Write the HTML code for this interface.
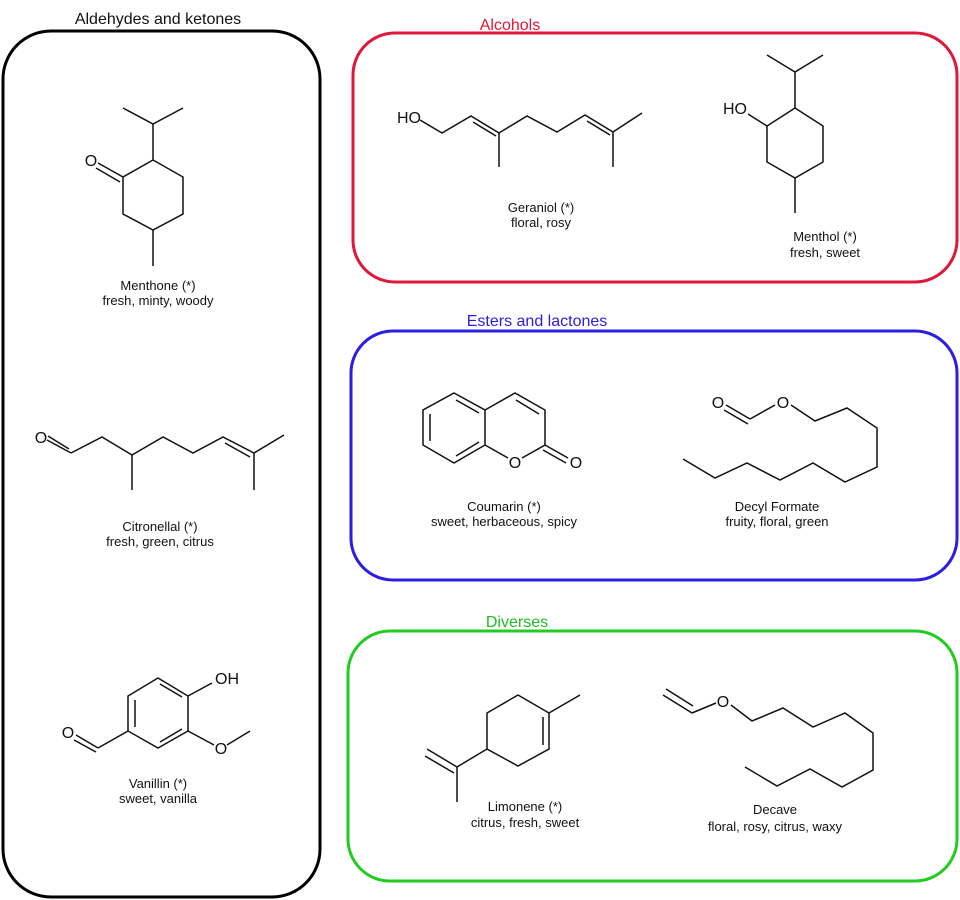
<!DOCTYPE html>
<html><head><meta charset="utf-8"><style>
html,body{margin:0;padding:0;background:#fff;}
svg{display:block}
text{font-family:"Liberation Sans Narrow","Liberation Sans",sans-serif;font-size:13px;fill:#111;text-anchor:middle}
.a{font-family:"Liberation Sans",sans-serif;font-size:16px;text-anchor:start}
.t{font-family:"Liberation Sans",sans-serif;font-size:16px}
</style></head><body>
<svg width="960" height="900" viewBox="0 0 960 900" xmlns="http://www.w3.org/2000/svg">
<g fill="none" stroke-width="3">
<rect x="3" y="31" width="317" height="866" rx="48" stroke="#000"/>
<rect x="353" y="33" width="604" height="249" rx="42" stroke="#e0173a"/>
<rect x="351" y="331" width="606" height="249" rx="42" stroke="#2a1ee0"/>
<rect x="348" y="631" width="609" height="250" rx="42" stroke="#22cc22"/>
</g>
<text class="t" x="158" y="24" fill="#000">Aldehydes and ketones</text>
<text class="t" x="510" y="30" style="fill:#e0173a">Alcohols</text>
<text class="t" x="537" y="326" style="fill:#2a1ee0">Esters and lactones</text>
<text class="t" x="517" y="627" style="fill:#22bb22">Diverses</text>

<g fill="none" stroke="#111" stroke-width="1.5">
<!-- Menthone -->
<polyline points="123,108 153,124 183,108"/>
<polyline points="153,124 153,160 183,177 183,214 153,230 123,214 123,177 153,160"/>
<line x1="153" y1="230" x2="153" y2="266"/>
<line x1="123" y1="177" x2="98" y2="163"/><line x1="120" y1="182" x2="96" y2="168"/>
<!-- Citronellal -->
<line x1="71" y1="453" x2="47" y2="440"/><line x1="69" y1="449" x2="48" y2="436"/>
<polyline points="71,453 102,437 132,455 163,437 193,453 223,437 254,453 284,435"/>
<line x1="132" y1="455" x2="132" y2="490"/><line x1="254" y1="453" x2="254" y2="490"/>
<line x1="225" y1="443" x2="250" y2="457"/>
<!-- Vanillin -->
<polygon points="158,678 188,696 188,731 158,748 128,731 128,696"/>
<line x1="135" y1="700" x2="135" y2="727"/><line x1="160" y1="684" x2="182" y2="697"/><line x1="182" y1="729" x2="160" y2="742"/>
<line x1="188" y1="696" x2="212" y2="683"/>
<line x1="188" y1="731" x2="214" y2="745"/><line x1="227" y1="745" x2="250" y2="731"/>
<line x1="128" y1="731" x2="98" y2="748"/>
<line x1="98" y1="748" x2="76" y2="735"/><line x1="96" y1="752" x2="74" y2="740"/>
<!-- Geraniol -->
<polyline points="420,120 442,133 471,116 499,133 527,116 557,132 585,115 613,132 642,113"/>
<line x1="499" y1="133" x2="499" y2="167"/><line x1="613" y1="132" x2="613" y2="167"/>
<line x1="473" y1="122" x2="496" y2="136"/><line x1="587" y1="121" x2="610" y2="135"/>
<!-- Menthol -->
<polyline points="767,55 795,72 823,55"/>
<polyline points="795,72 795,108 823,126 823,162 795,178 767,162 767,126 795,108"/>
<line x1="795" y1="178" x2="795" y2="213"/>
<line x1="767" y1="126" x2="748" y2="114"/>
<!-- Coumarin -->
<polygon points="454,393 485,410 485,445 454,463 423,445 423,410"/>
<line x1="430" y1="414" x2="430" y2="441"/><line x1="456" y1="400" x2="479" y2="413"/><line x1="479" y1="442" x2="456" y2="456"/>
<polyline points="485,410 515,393 545,410 545,445 522,458"/>
<line x1="485" y1="445" x2="508" y2="458"/>
<line x1="516" y1="400" x2="539" y2="414"/>
<line x1="545" y1="445" x2="568" y2="458"/><line x1="543" y1="450" x2="566" y2="463"/>
<!-- Decyl formate -->
<line x1="750" y1="419" x2="726" y2="405"/><line x1="748" y1="424" x2="724" y2="410"/>
<line x1="750" y1="419" x2="775" y2="405"/>
<polyline points="791,405 815,421 847,408 877,428 877,467 845,482 813,463 780,480 747,463 715,478 683,459"/>
<!-- Limonene -->
<polygon points="518,695 549,713 549,749 518,766 487,749 487,713"/>
<line x1="543" y1="717" x2="543" y2="745"/>
<line x1="549" y1="713" x2="580" y2="695"/>
<line x1="487" y1="749" x2="457" y2="767"/>
<line x1="457" y1="767" x2="427" y2="749"/><line x1="454" y1="773" x2="425" y2="756"/>
<line x1="457" y1="767" x2="457" y2="802"/>
<!-- Decave -->
<line x1="663" y1="695" x2="692" y2="713"/><line x1="666" y1="689" x2="693" y2="706"/>
<line x1="692" y1="713" x2="716" y2="703"/>
<polyline points="731,705 752,721 783,708 813,727 845,713 873,733 873,770 842,787 810,769 777,786 745,767"/>
</g>
<g style="font-family:'Liberation Sans',sans-serif;font-size:16px">
<text x="91" y="166" style="font-size:16px;font-family:'Liberation Sans',sans-serif">O</text>
<text x="41" y="443" style="font-size:16px;font-family:'Liberation Sans',sans-serif">O</text>
<text x="68" y="738" style="font-size:16px;font-family:'Liberation Sans',sans-serif">O</text>
<text x="227" y="684" style="font-size:16px;font-family:'Liberation Sans',sans-serif">OH</text>
<text x="221" y="754" style="font-size:16px;font-family:'Liberation Sans',sans-serif">O</text>
<text x="409" y="123" style="font-size:16px;font-family:'Liberation Sans',sans-serif">HO</text>
<text x="735" y="114" style="font-size:16px;font-family:'Liberation Sans',sans-serif">HO</text>
<text x="515" y="468" style="font-size:16px;font-family:'Liberation Sans',sans-serif">O</text>
<text x="576" y="468" style="font-size:16px;font-family:'Liberation Sans',sans-serif">O</text>
<text x="718" y="408" style="font-size:16px;font-family:'Liberation Sans',sans-serif">O</text>
<text x="783" y="408" style="font-size:16px;font-family:'Liberation Sans',sans-serif">O</text>
<text x="723" y="707" style="font-size:16px;font-family:'Liberation Sans',sans-serif">O</text>
</g>
<text x="158" y="290">Menthone (*)</text><text x="158" y="305">fresh, minty, woody</text>
<text x="160" y="531">Citronellal (*)</text><text x="160" y="546">fresh, green, citrus</text>
<text x="158" y="788">Vanillin (*)</text><text x="158" y="803">sweet, vanilla</text>
<text x="541" y="212">Geraniol (*)</text><text x="541" y="227">floral, rosy</text>
<text x="825" y="241">Menthol (*)</text><text x="825" y="257">fresh, sweet</text>
<text x="504" y="511">Coumarin (*)</text><text x="504" y="526">sweet, herbaceous, spicy</text>
<text x="777" y="511">Decyl Formate</text><text x="777" y="526">fruity, floral, green</text>
<text x="525" y="811">Limonene (*)</text><text x="525" y="827">citrus, fresh, sweet</text>
<text x="775" y="814">Decave</text><text x="775" y="831">floral, rosy, citrus, waxy</text>
</svg>
</body></html>
